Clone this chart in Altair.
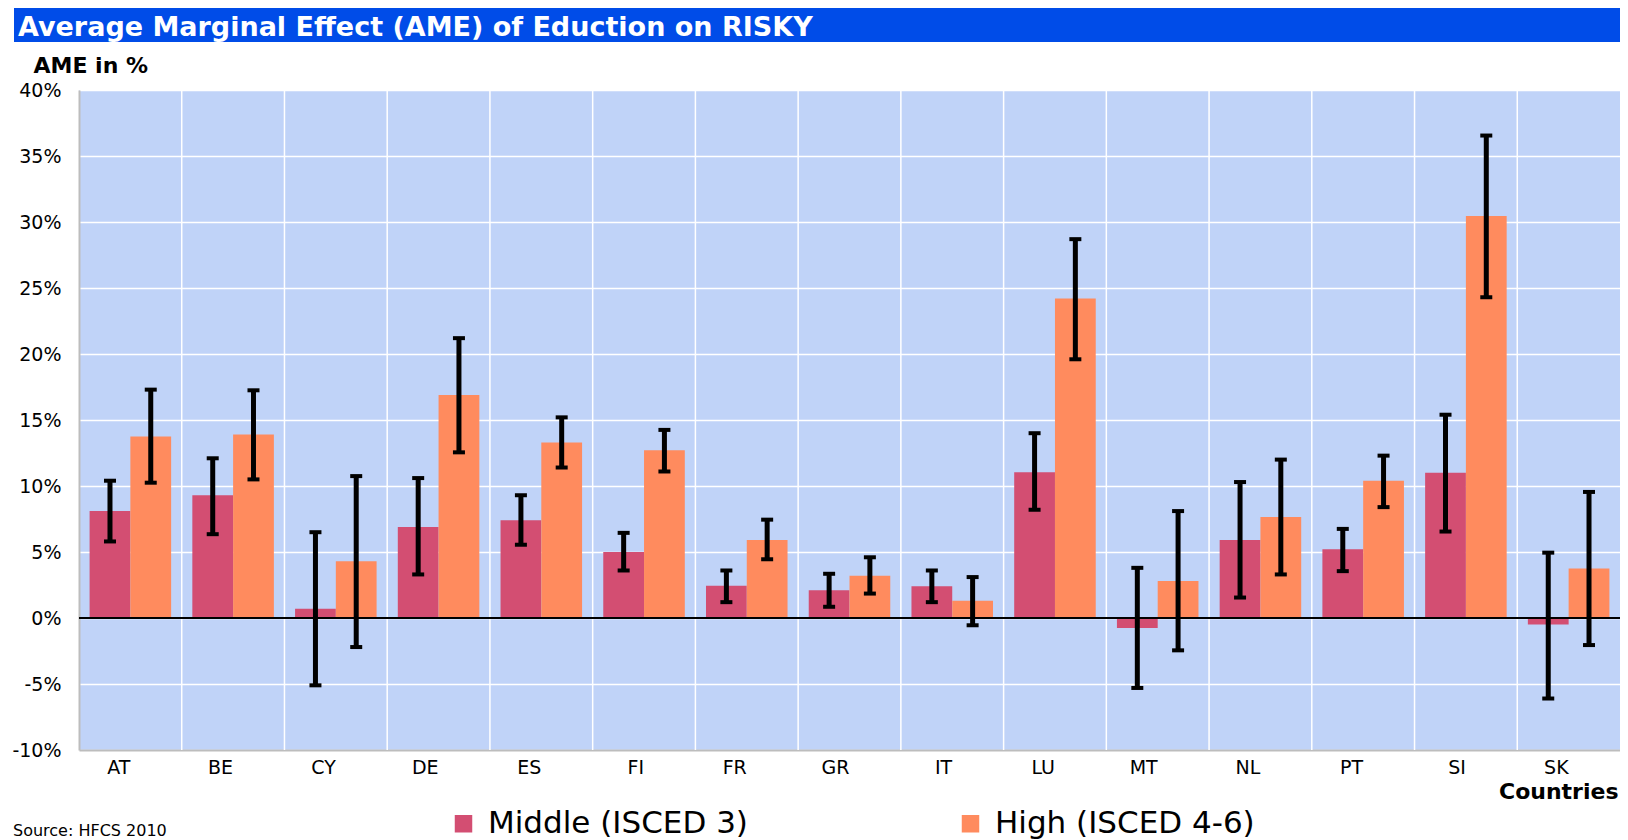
import altair as alt
import pandas as pd

countries = ["AT", "BE", "CY", "DE", "ES", "FI", "FR", "GR", "IT", "LU", "MT", "NL", "PT", "SI", "SK"]
levels = ["Middle (ISCED 3)", "High (ISCED 4-6)"]
colors = ["#D34E72", "#FF8B5E"]

middle = [8.1, 9.3, 0.7, 6.9, 7.4, 5.0, 2.45, 2.1, 2.4, 11.05, -0.75, 5.9, 5.2, 11.0, -0.5]
middle_lo = [5.8, 6.35, -5.1, 3.3, 5.55, 3.6, 1.2, 0.85, 1.2, 8.2, -5.3, 1.55, 3.55, 6.55, -6.1]
middle_hi = [10.4, 12.1, 6.5, 10.6, 9.3, 6.45, 3.6, 3.35, 3.6, 14.0, 3.8, 10.3, 6.75, 15.4, 4.95]

high = [13.75, 13.9, 4.3, 16.9, 13.3, 12.7, 5.9, 3.2, 1.3, 24.2, 2.8, 7.65, 10.4, 30.45, 3.75]
high_lo = [10.25, 10.5, -2.2, 12.55, 11.4, 11.1, 4.45, 1.85, -0.55, 19.6, -2.45, 3.3, 8.4, 24.3, -2.05]
high_hi = [17.3, 17.25, 10.75, 21.2, 15.2, 14.25, 7.45, 4.6, 3.1, 28.7, 8.1, 12.0, 12.3, 36.55, 9.55]

y_ticks = [-10, -5, 0, 5, 10, 15, 20, 25, 30, 35, 40]

title_text = "Average Marginal Effect (AME) of Eduction on RISKY"
source_text = "Source: HFCS 2010"

rows = []
for i, c in enumerate(countries):
    rows.append({"country": c, "level": levels[0], "value": middle[i], "lo": middle_lo[i], "hi": middle_hi[i]})
    rows.append({"country": c, "level": levels[1], "value": high[i], "lo": high_lo[i], "hi": high_hi[i]})
df = pd.DataFrame(rows)

FONT = "DejaVu Sans"

x_enc = alt.X(
    "country:N", sort=countries,
    scale=alt.Scale(paddingInner=0, paddingOuter=0),
    axis=alt.Axis(
        labelAngle=0, ticks=False, grid=False, domainColor="#BDBDBD", domainWidth=2,
        labelFont=FONT, labelFontSize=19, labelColor="black", labelPadding=17,
        title="Countries", titleFont=FONT, titleFontSize=22, titleFontWeight="bold",
        titleColor="black", titleX=1539, titleY=48, titleAlign="right", titleBaseline="alphabetic",
    ),
)
xoff_enc = alt.XOffset("level:N", sort=levels, scale=alt.Scale(paddingOuter=0.26, paddingInner=0))
y_scale = alt.Scale(domain=[-10, 40], nice=False, zero=False)

bars = alt.Chart(df).mark_bar().encode(
    x=x_enc,
    xOffset=xoff_enc,
    y=alt.Y(
        "value:Q", scale=y_scale,
        axis=alt.Axis(
            values=y_ticks, labelExpr="datum.value + '%'", ticks=False, grid=True,
            gridColor="white", gridWidth=1.5, domainColor="#BDBDBD", domainWidth=2,
            labelFont=FONT, labelFontSize=19, labelColor="black", labelPadding=18,
            title="AME in %", titleFont=FONT, titleFontSize=22, titleFontWeight="bold",
            titleColor="black", titleAngle=0, titleX=-46, titleY=-18,
            titleAlign="left", titleBaseline="alphabetic",
        ),
    ),
    color=alt.Color(
        "level:N", sort=levels, scale=alt.Scale(domain=levels, range=colors),
        legend=alt.Legend(
            orient="none", legendX=369, legendY=718, direction="horizontal", title=None,
            symbolType="square", symbolSize=306, symbolStrokeWidth=0, symbolOpacity=1,
            labelFont=FONT, labelFontSize=31, labelColor="black", labelOffset=9,
            columnPadding=207, padding=0, labelLimit=0,
        ),
    ),
)

vgrid = alt.Chart(pd.DataFrame({"country": countries[1:]})).mark_rule(
    color="white", strokeWidth=1.5
).encode(x=alt.X("country:N", sort=countries, bandPosition=0))

zero = alt.Chart(pd.DataFrame({"z": [0]})).mark_rule(color="black", strokeWidth=2).encode(
    y=alt.Y("z:Q", scale=y_scale)
)

err = alt.Chart(df).mark_rule(color="black", strokeWidth=5).encode(
    x=x_enc, xOffset=xoff_enc, y=alt.Y("lo:Q", scale=y_scale), y2="hi:Q"
)
cap_hi = alt.Chart(df).mark_tick(color="black", thickness=4, size=12, opacity=1).encode(
    x=x_enc, xOffset=xoff_enc, y=alt.Y("hi:Q", scale=y_scale)
)
cap_lo = alt.Chart(df).mark_tick(color="black", thickness=4, size=12, opacity=1).encode(
    x=x_enc, xOffset=xoff_enc, y=alt.Y("lo:Q", scale=y_scale)
)

banner_df = pd.DataFrame({"t": [title_text]})
banner = alt.Chart(banner_df).mark_rect(color="#004CE8").encode(
    x=alt.value(-65), x2=alt.value(1700), y=alt.value(-84), y2=alt.value(-48)
)
banner_text = alt.Chart(banner_df).mark_text(
    font=FONT, fontSize=27, fontWeight="bold", color="white", align="left", baseline="alphabetic"
).encode(text="t:N", x=alt.value(-61), y=alt.value(-54))

source = alt.Chart(pd.DataFrame({"s": [source_text]})).mark_text(
    font=FONT, fontSize=16, color="black", align="left", baseline="alphabetic"
).encode(text="s:N", x=alt.value(-66), y=alt.value(746))

chart = alt.layer(vgrid, bars, zero, err, cap_hi, cap_lo, banner, banner_text, source).properties(
    width=1541, height=660,
    autosize=alt.AutoSizeParams(type="none"),
    padding={"left": 71, "top": 82, "right": 0, "bottom": 90},
).configure_view(fill="#C0D3F8", strokeWidth=0)

chart.save("out.html", embed_options={"renderer": "svg", "actions": False})
